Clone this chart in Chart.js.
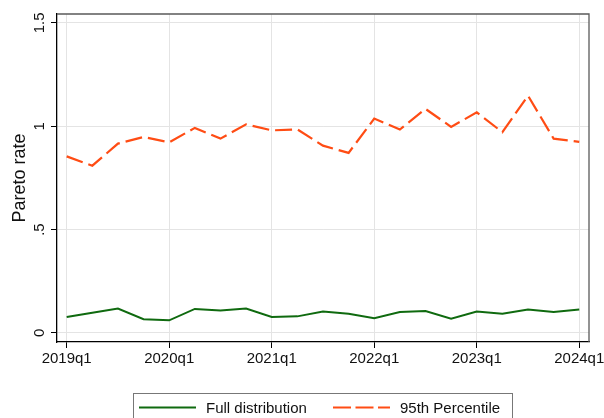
<!DOCTYPE html>
<html>
<head>
<meta charset="utf-8">
<script src="https://cdn.jsdelivr.net/npm/chart.js@4.4.1/dist/chart.umd.min.js"></script>
<style>
  html, body { margin: 0; padding: 0; background: #fff; }
  #wrap { width: 604px; height: 418px; }
</style>
</head>
<body>
<div id="wrap"><canvas id="paretoChart" width="604" height="418"></canvas></div>
<script>
// данные
const quarters = [
  '2019q1', '2019q2', '2019q3', '2019q4',
  '2020q1', '2020q2', '2020q3', '2020q4',
  '2021q1', '2021q2', '2021q3', '2021q4',
  '2022q1', '2022q2', '2022q3', '2022q4',
  '2023q1', '2023q2', '2023q3', '2023q4',
  '2024q1'
];
const fullDist = [
  0.077, 0.097, 0.118, 0.066,
  0.061, 0.116, 0.108, 0.118,
  0.077, 0.080, 0.103, 0.093,
  0.071, 0.101, 0.106, 0.069,
  0.103, 0.093, 0.113, 0.101,
  0.113
];
const pct95 = [
  0.854, 0.809, 0.916, 0.948,
  0.922, 0.992, 0.940, 1.009,
  0.980, 0.985, 0.906, 0.871,
  1.037, 0.984, 1.084, 0.997,
  1.067, 0.971, 1.148, 0.940,
  0.924
];
const xTickIdx = [0, 4, 8, 12, 16, 20];
const yTickVals = [0, 0.5, 1, 1.5];
const yTickLabels = ['0', '.5', '1', '1.5'];
const seriesNames = ['Full distribution', '95th Percentile'];

const GREEN = '#0f6a0f';
const ORANGE = '#ff4c14';
const DASH = [17, 6];
const FONT = 'Liberation Sans, Arial, sans-serif';

function toPoints(arr) {
  return arr.map((v, i) => ({ x: i, y: v }));
}

// подписи осей, рамка и легенда в стиле Stata
const stataDecor = {
  id: 'stataDecor',
  afterDraw(chart) {
    const ctx = chart.ctx;
    const area = chart.chartArea;
    const xs = chart.scales.x;
    const ys = chart.scales.y;
    ctx.save();

    // верх и правая сторона рамки
    ctx.strokeStyle = '#5a5a5a';
    ctx.lineWidth = 1.3;
    ctx.beginPath();
    ctx.moveTo(area.left, area.top);
    ctx.lineTo(area.right, area.top);
    ctx.lineTo(area.right, area.bottom);
    ctx.stroke();

    ctx.fillStyle = '#111';
    ctx.font = '15px ' + FONT;

    // подписи X
    ctx.textAlign = 'center';
    ctx.textBaseline = 'alphabetic';
    xTickIdx.forEach(i => {
      ctx.fillText(quarters[i], xs.getPixelForValue(i), 363);
    });

    // подписи Y (повернутые)
    yTickVals.forEach((v, k) => {
      ctx.save();
      ctx.translate(43.5, ys.getPixelForValue(v));
      ctx.rotate(-Math.PI / 2);
      ctx.fillText(yTickLabels[k], 0, 0);
      ctx.restore();
    });

    // заголовок оси Y
    ctx.save();
    ctx.font = '18px ' + FONT;
    ctx.translate(24.5, (area.top + area.bottom) / 2);
    ctx.rotate(-Math.PI / 2);
    ctx.fillText('Pareto rate', 0, 0);
    ctx.restore();

    // легенда
    ctx.strokeStyle = '#777';
    ctx.lineWidth = 1;
    ctx.strokeRect(133.5, 393.5, 379, 40);

    const ly = 407.5;
    ctx.lineWidth = 2;
    ctx.strokeStyle = GREEN;
    ctx.beginPath();
    ctx.moveTo(139, ly);
    ctx.lineTo(196, ly);
    ctx.stroke();

    ctx.strokeStyle = ORANGE;
    ctx.setLineDash([18, 4.5]);
    ctx.beginPath();
    ctx.moveTo(333, ly);
    ctx.lineTo(390, ly);
    ctx.stroke();
    ctx.setLineDash([]);

    ctx.textAlign = 'left';
    ctx.fillText(seriesNames[0], 206, 413);
    ctx.fillText(seriesNames[1], 400, 413);

    ctx.restore();
  }
};

const chart = new Chart(document.getElementById('paretoChart'), {
  type: 'line',
  data: {
    datasets: [
      {
        label: seriesNames[0],
        data: toPoints(fullDist),
        borderColor: GREEN,
        borderWidth: 2,
        pointRadius: 0,
        tension: 0
      },
      {
        label: seriesNames[1],
        data: toPoints(pct95),
        borderColor: ORANGE,
        borderWidth: 2.2,
        borderDash: DASH,
        pointRadius: 0,
        tension: 0
      }
    ]
  },
  options: {
    responsive: false,
    animation: false,
    events: [],
    layout: { padding: { left: 51, right: 15, top: 14, bottom: 70 } },
    plugins: {
      legend: { display: false },
      tooltip: { enabled: false }
    },
    scales: {
      x: {
        type: 'linear',
        min: -0.378,
        max: 20.38,
        afterBuildTicks: scale => { scale.ticks = xTickIdx.map(v => ({ value: v })); },
        ticks: { display: false },
        grid: { color: '#e4e4e4', lineWidth: 1, tickColor: '#000', tickLength: 6 },
        border: { color: '#000', width: 1.3 }
      },
      y: {
        type: 'linear',
        min: -0.044,
        max: 1.543,
        afterBuildTicks: scale => { scale.ticks = yTickVals.map(v => ({ value: v })); },
        ticks: { display: false },
        grid: { color: '#e4e4e4', lineWidth: 1, tickColor: '#000', tickLength: 6 },
        border: { color: '#000', width: 1.3 }
      }
    }
  },
  plugins: [stataDecor]
});
</script>
</body>
</html>
